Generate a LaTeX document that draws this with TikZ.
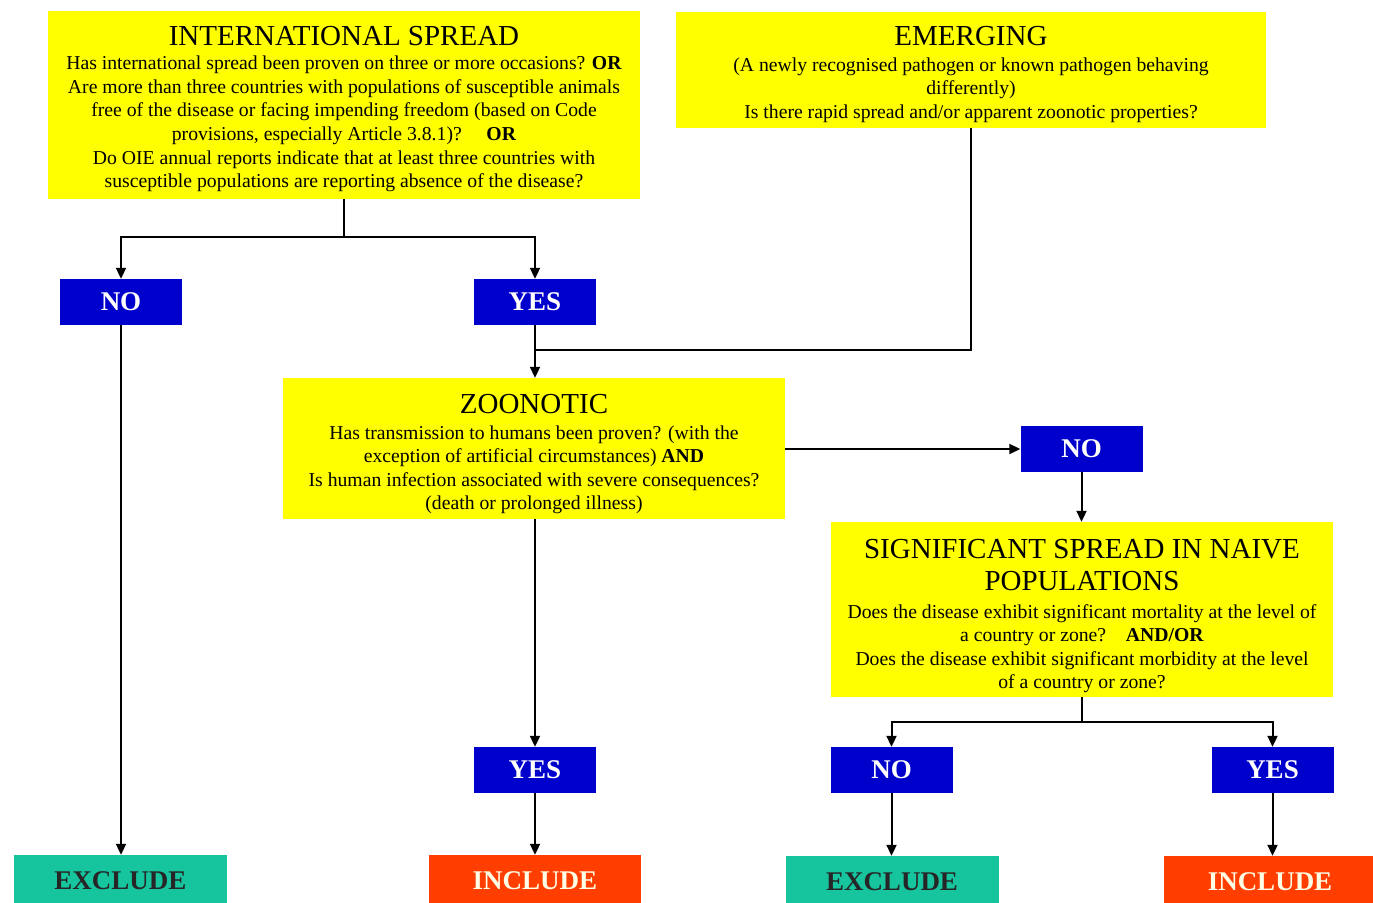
\documentclass[tikz,border=0pt]{standalone}
\usepackage{fontspec}
\setmainfont{Liberation Serif}
\usetikzlibrary{arrows.meta}
\definecolor{ybg}{RGB}{255,255,0}
\definecolor{bbg}{RGB}{0,0,204}
\definecolor{tbg}{RGB}{22,196,158}
\definecolor{rbg}{RGB}{255,62,0}
\newcommand{\ttlfont}{\fontsize{29}{32}\selectfont}
\newcommand{\tstr}[1]{\rule{0pt}{#1}}
\begin{document}
\begin{tikzpicture}[x=1pt,y=-1pt,
  qbox/.style={fill=ybg,draw=none,align=center,inner sep=0pt,text=black,
    font=\fontsize{19.7}{23.6}\selectfont},
  ans/.style={fill=bbg,draw=none,inner sep=0pt,text=white,
    minimum width=122pt,minimum height=46pt,font=\fontsize{27}{30}\selectfont\bfseries},
  outx/.style={fill=tbg,draw=none,inner sep=0pt,text=black!85,
    minimum width=213pt,minimum height=52pt,font=\fontsize{27}{30}\selectfont\bfseries},
  outi/.style={fill=rbg,draw=none,inner sep=0pt,text=white!90!yellow,
    minimum width=212pt,minimum height=52pt,font=\fontsize{27}{30}\selectfont\bfseries},
  conn/.style={line width=2pt,draw=black},
  arr/.style={conn,-{Triangle[width=10pt,length=11pt]}}
]
\useasboundingbox (0,0) rectangle (1373,902);
\fill[white] (0,0) rectangle (1373,902);

\node[qbox,minimum width=592pt,minimum height=188pt] (is) at (344,105)
 {{\ttlfont\tstr{27.5pt}INTERNATIONAL SPREAD}\\[0.5pt]
  Has international spread been proven on three or more occasions? \textbf{OR}\\
  Are more than three countries with populations of susceptible animals\\
  free of the disease or facing impending freedom (based on Code\\
  provisions, especially Article 3.8.1)?\quad\ \textbf{OR}\\
  Do OIE annual reports indicate that at least three countries with\\
  susceptible populations are reporting absence of the disease?};

\node[qbox,minimum width=590pt,minimum height=116pt] (em) at (971,70)
 {{\ttlfont\tstr{28.5pt}EMERGING}\\[2pt]
  (A newly recognised pathogen or known pathogen behaving\\
  differently)\\
  Is there rapid spread and/or apparent zoonotic properties?};

\node[ans] (no1) at (121,302) {NO};
\node[ans] (yes1) at (535,302) {YES};

\node[qbox,minimum width=502pt,minimum height=141pt] (zo) at (534,448.5)
 {{\ttlfont\tstr{30.5pt}ZOONOTIC}\\[2pt]
  Has transmission to humans been proven? (with the\\
  exception of artificial circumstances) \textbf{AND}\\
  Is human infection associated with severe consequences?\\
  (death or prolonged illness)};

\node[ans] (no2) at (1081.5,449) {NO};

\node[qbox,minimum width=502pt,minimum height=175pt] (sp) at (1082,609.5)
 {{\ttlfont\tstr{32.5pt}SIGNIFICANT SPREAD IN NAIVE}\\[8.4pt]
  {\ttlfont POPULATIONS}\\[4pt]
  Does the disease exhibit significant mortality at the level of\\
  a country or zone?\quad\textbf{AND/OR}\\
  Does the disease exhibit significant morbidity at the level\\
  of a country or zone?};

\node[ans] (yes2) at (535,770) {YES};
\node[ans] (no3) at (891.5,770) {NO};
\node[ans] (yes3) at (1272.5,770) {YES};

\node[outx] (ex1) at (120.5,881) {EXCLUDE};
\node[outi] (in1) at (535,881) {INCLUDE};
\node[outx] (ex2) at (892,882) {EXCLUDE};
\node[outi] (in2) at (1270,882) {INCLUDE};

\coordinate (j0) at (344,237);
\coordinate (j1) at (535,350);
\coordinate (j2) at (1082,722);

\draw[conn] (is.south) -- (j0);
\draw[arr] (j0) -| (no1.north);
\draw[arr] (j0) -| (yes1.north);
\draw[arr] (no1.south) -- (ex1.north -| no1.south);
\draw[arr] (yes1.south) -- (zo.north -| yes1.south);
\draw[conn] (em.south) |- (j1);
\draw[arr] (zo.east |- no2.west) -- (no2.west);
\draw[arr] (no2.south) -- (sp.north -| no2.south);
\draw[arr] (zo.south -| yes2.north) -- (yes2.north);
\draw[arr] (yes2.south) -- (in1.north);
\draw[conn] (sp.south) -- (j2);
\draw[arr] (j2) -| (no3.north);
\draw[arr] (j2) -| (yes3.north);
\draw[arr] (no3.south) -- (ex2.north -| no3.south);
\draw[arr] (yes3.south) -- (in2.north -| yes3.south);
\end{tikzpicture}
\end{document}
